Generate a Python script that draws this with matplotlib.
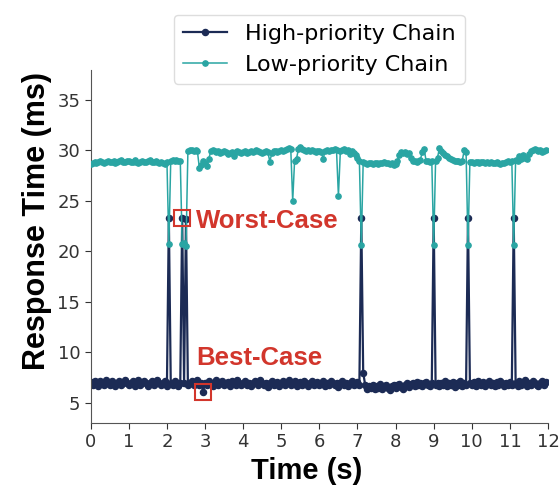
import matplotlib
matplotlib.use("Agg")
import matplotlib.pyplot as plt
import numpy as np

# sampling grid: 12 s at 20 Hz
time_s = np.round(np.arange(0, 12, 0.05), 2)

# high-priority chain response time (ms), one row per second
high_ms = [
    7.1, 6.8, 7.2, 7.0, 6.7, 7.2, 7.0, 6.8, 7.3, 7.0, 6.8, 7.2, 7.0, 6.7, 7.0, 7.2, 6.8, 7.0, 7.3, 7.0,
    6.8, 7.0, 7.2, 6.7, 7.0, 7.3, 6.8, 7.0, 7.2, 7.0, 6.7, 7.0, 7.2, 6.8, 7.0, 7.3, 7.0, 6.8, 7.0, 7.2,
    6.7, 23.3, 7.0, 6.8, 7.2, 7.0, 6.7, 7.0, 23.3, 7.0, 23.2, 6.8, 7.0, 7.2, 6.8, 7.0, 7.3, 6.8, 7.0, 6.1,
    7.0, 6.8, 7.2, 7.0, 6.7, 7.0, 7.3, 6.8, 7.0, 7.2, 6.8, 7.0, 7.1, 6.7, 7.2, 7.0, 6.8, 7.3, 7.0, 6.8,
    7.0, 7.2, 6.8, 7.0, 6.7, 7.0, 7.2, 7.0, 6.8, 7.3, 7.0, 6.8, 7.0, 6.6, 7.0, 7.2, 6.8, 7.0, 7.1, 6.7,
    7.0, 7.2, 6.8, 7.0, 7.3, 6.8, 7.0, 7.2, 6.7, 7.0, 7.1, 6.8, 7.2, 7.0, 6.7, 7.0, 7.2, 6.8, 7.0, 7.1,
    6.8, 7.0, 7.2, 6.7, 7.0, 6.8, 7.2, 7.0, 6.8, 7.0, 6.6, 7.0, 7.2, 6.8, 7.0, 6.7, 7.0, 7.2, 6.8, 7.0,
    7.1, 6.8, 23.3, 8.0, 6.8, 6.4, 6.7, 6.5, 6.8, 6.4, 6.7, 6.5, 6.9, 6.4, 6.7, 6.8, 6.5, 6.3, 6.7, 6.8,
    6.5, 6.8, 6.9, 6.6, 6.4, 6.8, 7.0, 6.6, 6.9, 7.0, 6.7, 7.1, 6.8, 7.0, 6.7, 7.0, 7.1, 6.8, 6.7, 7.0,
    23.3, 6.8, 7.0, 6.7, 7.0, 6.8, 7.2, 6.7, 7.0, 6.8, 7.1, 6.6, 7.0, 6.8, 7.2, 6.7, 7.0, 6.8, 23.3, 7.0,
    6.8, 7.1, 6.7, 7.2, 7.0, 6.8, 7.1, 6.7, 7.0, 7.2, 6.8, 7.0, 6.7, 7.1, 6.8, 7.2, 7.0, 6.7, 7.0, 6.8,
    7.1, 6.8, 23.3, 7.0, 6.7, 7.2, 6.8, 7.0, 7.3, 6.7, 7.0, 6.8, 7.2, 7.0, 6.8, 6.7, 7.0, 7.2, 6.8, 7.1,
]

# low-priority chain response time (ms)
low_ms = [
    28.7, 28.8, 28.9, 28.8, 28.9, 29.0, 28.9, 28.8, 28.9, 29.0, 28.9, 28.9, 29.0, 28.8, 28.9, 29.0, 29.1, 28.9, 28.9, 29.0,
    29.0, 28.9, 28.9, 29.1, 28.9, 28.8, 28.9, 29.0, 28.9, 28.9, 29.0, 29.1, 28.9, 28.9, 29.0, 28.9, 28.8, 28.9, 28.8, 28.7,
    28.9, 20.7, 29.0, 29.1, 29.0, 29.1, 29.0, 29.0, 20.7, 20.8, 20.5, 29.9, 30.0, 30.0, 29.9, 30.0, 29.9, 28.3, 28.6, 29.0,
    28.8, 28.5, 29.2, 29.9, 30.0, 29.9, 29.8, 29.9, 29.7, 29.8, 29.9, 29.8, 29.6, 29.7, 29.8, 29.4, 29.8, 29.9, 29.8, 29.7,
    29.8, 29.9, 29.7, 29.8, 29.9, 29.8, 29.9, 30.0, 29.9, 29.8, 29.7, 29.8, 29.9, 29.8, 28.9, 29.7, 29.9, 29.9, 29.8, 29.9,
    30.0, 29.9, 30.0, 30.1, 30.2, 30.1, 25.0, 29.0, 29.2, 30.1, 30.3, 30.1, 30.0, 29.9, 30.0, 29.9, 30.0, 29.9, 29.8, 29.9,
    29.9, 29.8, 29.2, 29.9, 30.0, 29.9, 30.0, 30.0, 30.1, 30.0, 25.5, 29.9, 30.0, 30.1, 29.9, 30.0, 29.6, 29.9, 29.7, 29.5,
    29.3, 29.0, 20.6, 28.9, 28.8, 28.7, 28.8, 28.8, 28.7, 28.8, 28.8, 28.7, 28.8, 28.8, 28.9, 28.8, 28.8, 28.7, 28.8, 28.6,
    28.7, 29.0, 29.5, 29.8, 29.7, 29.8, 29.6, 29.7, 29.3, 29.0, 29.0, 28.9, 29.0, 29.1, 29.8, 30.1, 29.0, 29.0, 28.9, 29.0,
    20.6, 29.0, 29.3, 30.2, 29.9, 29.7, 29.5, 29.4, 29.3, 29.2, 29.1, 29.0, 29.0, 29.0, 28.9, 29.0, 30.0, 29.8, 20.6, 28.9,
    28.9, 28.8, 28.9, 28.9, 28.8, 28.9, 28.9, 28.8, 28.9, 28.8, 28.9, 28.8, 28.8, 28.9, 28.8, 28.7, 28.8, 28.8, 28.9, 29.0,
    28.9, 29.0, 20.6, 29.1, 29.0, 29.4, 29.2, 29.5, 29.3, 29.2, 29.6, 29.9, 30.0, 30.1, 30.0, 29.9, 30.0, 29.8, 29.9, 30.0,
]

# highlighted samples
worst_t, worst_v = 2.40, 23.3
best_t, best_v = 2.95, 6.1

high_color = '#1c2b55'
low_color = '#2aa5a3'
red = '#d2362c'
bold_font = ['Liberation Sans', 'DejaVu Sans']

fig = plt.figure(figsize=(5.6, 4.96), dpi=100)
ax = fig.add_axes([0.162, 0.1472, 0.8166, 0.7123])

ax.plot(time_s, high_ms, '-o', color=high_color, lw=1.6, markersize=4.4,
        label='High-priority Chain', zorder=2)
ax.plot(time_s, low_ms, '-o', color=low_color, lw=1.1, markersize=3.8,
        label='Low-priority Chain', zorder=3)

# worst / best case boxes
ax.plot([worst_t], [worst_v], 's', markersize=11, markerfacecolor='none',
        markeredgecolor=red, markeredgewidth=1.5, zorder=4)
ax.plot([best_t], [best_v], 's', markersize=11, markerfacecolor='none',
        markeredgecolor=red, markeredgewidth=1.5, zorder=4)
ax.text(2.76, 23.0, 'Worst-Case', color=red, fontsize=18.5, fontweight='bold',
        family=bold_font, ha='left', va='center', zorder=5)
ax.text(2.76, 9.4, 'Best-Case', color=red, fontsize=18.5, fontweight='bold',
        family=bold_font, ha='left', va='center', zorder=5)

ax.set_xlim(0, 12)
ax.set_ylim(3, 38)
ax.set_xticks(range(0, 13))
ax.set_yticks([5, 10, 15, 20, 25, 30, 35])
ax.tick_params(labelsize=13, colors='#333333', length=4)
ax.set_xlabel('Time (s)', fontsize=21, fontweight='bold', family=bold_font)
ax.set_ylabel('Response Time (ms)', fontsize=22, fontweight='bold', family=bold_font)
ax.xaxis.set_label_coords(0.473, -0.095)
ax.yaxis.set_label_coords(-0.085, 0.572)
for side in ['top', 'right']:
    ax.spines[side].set_visible(False)
for side in ['left', 'bottom']:
    ax.spines[side].set_color('#555555')

fig.legend(loc='upper center', bbox_to_anchor=(0.57, 1 - 15 / 496), fontsize=16,
           borderaxespad=0, framealpha=1, edgecolor='#dddddd')

fig.savefig('out.png', dpi=100)
